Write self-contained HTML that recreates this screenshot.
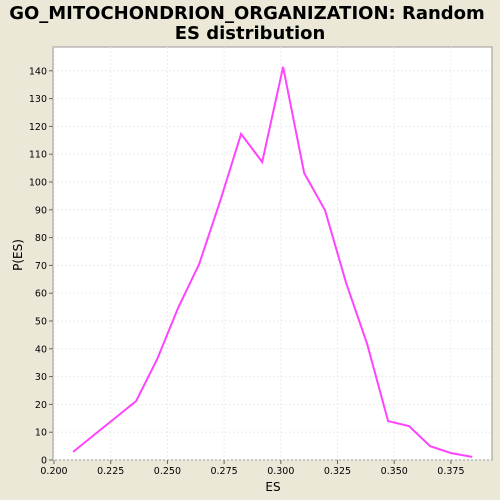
<!DOCTYPE html>
<html><head><meta charset="utf-8"><style>
html,body{margin:0;padding:0;width:500px;height:500px;overflow:hidden;background:#ece8d8;font-family:"DejaVu Sans",sans-serif;}
svg{display:block;}
</style></head><body>
<svg width="500" height="500" xmlns="http://www.w3.org/2000/svg" font-family="DejaVu Sans">
<rect width="500" height="500" fill="#ece8d8"/>
<text x="247" y="19" text-anchor="middle" font-size="18" font-weight="bold">GO_MITOCHONDRION_ORGANIZATION: Random</text>
<text x="250" y="39" text-anchor="middle" font-size="18" font-weight="bold">ES distribution</text>
<rect x="53" y="47" width="439" height="413" fill="#fff" stroke="#999"/>
<g id="grid"></g>
<g id="axes"></g>
<text x="273" y="491" text-anchor="middle" font-size="12">ES</text>
<text x="22" y="255" text-anchor="middle" font-size="12" transform="rotate(-90 22 255)">P(ES)</text>
<path id="line" fill="none" stroke="#ff44ff" stroke-width="2"/>
</svg>
<script>
const esValues=[0.2084,0.2177,0.2270,0.2362,0.2455,0.2547,0.2640,0.2733,0.2825,0.2918,0.3010,0.3103,0.3195,0.3288,0.3381,0.3473,0.3566,0.3658,0.3751,0.3844];
const densities=[2.9,null,null,21.2,36.3,54.7,70.5,93.2,117.3,107.2,141.4,103.2,89.9,63.7,41.7,14,12.2,5,2.5,1.1];
const xTicks=[0.200,0.225,0.250,0.275,0.300,0.325,0.350,0.375];
const yTicks=[0,10,20,30,40,50,60,70,80,90,100,110,120,130,140];
const x=v=>54+(v-0.2)/0.025*56.7;
const y=v=>460-v*2.78;
const NS="http://www.w3.org/2000/svg";
const grid=document.getElementById('grid'),axes=document.getElementById('axes');
function mk(t,a,p){const e=document.createElementNS(NS,t);for(const k in a)e.setAttribute(k,a[k]);p.appendChild(e);return e;}
xTicks.forEach(t=>{
 const g=mk('line',{x1:x(t),x2:x(t),y1:47,y2:460,stroke:'#ececec','stroke-dasharray':'2,2'},grid);
 
 
 const tk=mk('line',{x1:x(t),x2:x(t),y1:460,y2:464,stroke:'#666'},axes);
 
 
 const l=mk('text',{x:x(t),y:474,'text-anchor':'middle','font-size':'9.5'},axes);l.textContent=t.toFixed(3);
 
 
});
yTicks.forEach(t=>{
 const g=mk('line',{x1:53,x2:492,y1:y(t),y2:y(t),stroke:'#ececec','stroke-dasharray':'2,2'},grid);
 
 
 const tk=mk('line',{x1:49,x2:53,y1:y(t),y2:y(t),stroke:'#666'},axes);
 
 
 const l=mk('text',{x:47,y:y(t)+3.5,'text-anchor':'end','font-size':'9.5'},axes);l.textContent=t;
 
 
});
let d='';
esValues.forEach((v,i)=>{if(densities[i]==null)return;d+=(d?'L':'M')+x(v).toFixed(1)+','+y(densities[i]).toFixed(1);});
document.getElementById('line').setAttribute('d',d);
</script>
</body></html>
